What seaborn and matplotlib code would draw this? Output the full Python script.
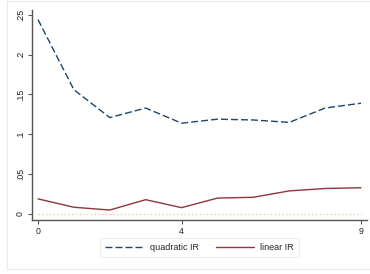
import numpy as np
import pandas as pd
import matplotlib
matplotlib.use("Agg")
import matplotlib.pyplot as plt
from matplotlib.patches import Rectangle
import seaborn as sns

# ------------------------------#
# Data
# ------------------------------#
steps = [0, 1, 2, 3, 4, 5, 6, 7, 8, 9]
quadratic_ir = [0.244, 0.156, 0.121, 0.133, 0.114, 0.119, 0.118, 0.115, 0.133, 0.139]
linear_ir = [0.019, 0.0085, 0.005, 0.018, 0.008, 0.020, 0.021, 0.029, 0.032, 0.033]
series_names = ["quadratic IR", "linear IR"]
x_ticks = [0, 4, 9]
y_ticks = [0, 0.05, 0.1, 0.15, 0.2, 0.25]
y_tick_labels = ["0", ".05", ".1", ".15", ".2", ".25"]

df = pd.DataFrame({
    "step": steps * 2,
    "value": quadratic_ir + linear_ir,
    "series": [series_names[0]] * len(steps) + [series_names[1]] * len(steps),
})

# ------------------------------#
# Plot
# ------------------------------#
sns.set_theme(style="white")
plt.rcParams["font.family"] = ["Liberation Sans", "DejaVu Sans"]

fig = plt.figure(figsize=(3.7, 2.74), dpi=100)
fig.patch.set_facecolor("white")

# outer graph region frame
fig.patches.append(Rectangle((7 / 370, (274 - 269) / 274), 1.2, (269 - 1) / 274,
                             transform=fig.transFigure, fill=False,
                             edgecolor="#e3ecef", linewidth=0.8, zorder=0))

ax = fig.add_axes([32 / 370, (274 - 220) / 274, (367 - 32) / 370, (220 - 10) / 274])

palette = {series_names[0]: "#1a476f", series_names[1]: "#90353b"}
dashes = {series_names[0]: (5, 2.2), series_names[1]: ""}

ax.hlines(0, steps[0], steps[-1], colors="#d9c99a", linestyles=(0, (1, 2)),
          linewidth=0.9, zorder=1)

sns.lineplot(data=df, x="step", y="value", hue="series", style="series",
             palette=palette, dashes=dashes, linewidth=1.0, ax=ax,
             legend=False, zorder=3)

ax.set_xlim(-0.167, 9.167)
ax.set_ylim(-0.0075, 0.256)
ax.set_xticks(x_ticks)
ax.set_xticklabels([str(t) for t in x_ticks], fontsize=6.3)
ax.set_yticks(y_ticks)
ax.set_yticklabels(y_tick_labels, fontsize=6.3, rotation=90, va="center")
ax.set_xlabel("")
ax.set_ylabel("")

for side in ["top", "right"]:
    ax.spines[side].set_visible(False)
for side in ["left", "bottom"]:
    ax.spines[side].set_color("#555555")
    ax.spines[side].set_linewidth(1.0)

ax.tick_params(axis="both", which="major", direction="out", length=3,
               width=0.8, color="#555555", labelcolor="#222222", pad=2,
               left=True, bottom=True)

# legend
handles = [
    plt.Line2D([], [], color=palette[series_names[0]], linewidth=1.0, dashes=(5, 2.2)),
    plt.Line2D([], [], color=palette[series_names[1]], linewidth=1.0),
]
leg = fig.legend(handles, series_names, loc="center",
                 bbox_to_anchor=(199.5 / 370, (274 - 247.5) / 274),
                 ncol=2, fontsize=6.5, frameon=True, fancybox=False,
                 handlelength=4.2, columnspacing=1.9, handletextpad=0.7,
                 borderpad=0.55, borderaxespad=0)
leg.get_frame().set_edgecolor("#e3ecef")
leg.get_frame().set_linewidth(0.8)

fig.savefig("out.png", dpi=100)
